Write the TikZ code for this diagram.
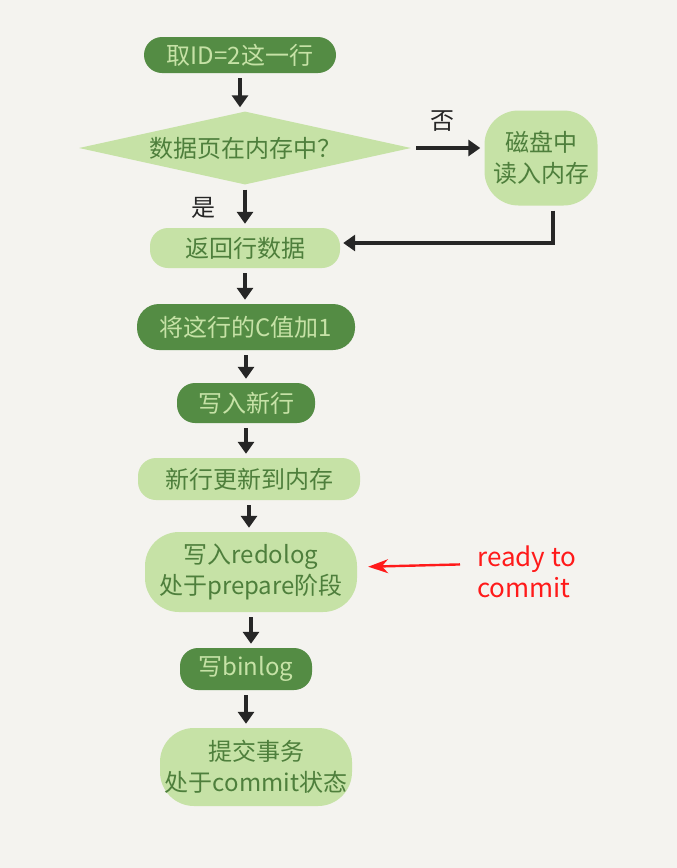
\documentclass[tikz,border=0pt]{standalone}
\usepackage{fontspec}
\newfontfamily\cjk{Noto Sans CJK SC}
\usetikzlibrary{shapes.geometric,arrows.meta}
\definecolor{paper}{HTML}{F4F3EF}
\definecolor{darkleaf}{HTML}{548C44}
\definecolor{lightleaf}{HTML}{C6E2A6}
\definecolor{inkgreen}{HTML}{4E7F3C}
\definecolor{ink}{HTML}{262626}
\definecolor{note}{HTML}{FF1A1A}
\tikzset{
  box/.style={rectangle, rounded corners=18pt, inner sep=0pt, align=center,
    font=\cjk\fontsize{24}{31}\selectfont},
  darkbox/.style={box, fill=darkleaf, text=lightleaf},
  lightbox/.style={box, fill=lightleaf, text=inkgreen},
  flow/.style={draw=ink, line width=4pt, -{Triangle[length=12pt,width=16pt]},
    shorten <=5pt, shorten >=4pt},
}

\begin{document}
\begin{tikzpicture}[x=1pt,y=-1pt]
\fill[paper] (0,0) rectangle (677,868);
\useasboundingbox (0,0) rectangle (677,868);

\node[darkbox, minimum width=192pt, minimum height=36pt] (take) at (240,55) {取ID=2这一行};
\node[diamond, aspect=4.5, inner sep=0pt, minimum width=332pt, minimum height=73pt,
  fill=lightleaf, text=inkgreen, font=\cjk\fontsize{24}{31}\selectfont] (chk) at (245,148) {数据页在内存中？};
\node[lightbox, rounded corners=34pt, minimum width=113pt, minimum height=95pt] (disk) at (541,158) {磁盘中\\读入内存};
\node[lightbox, minimum width=190pt, minimum height=40pt] (ret) at (245,248) {返回行数据};
\node[darkbox, rounded corners=22pt, minimum width=218pt, minimum height=46pt] (inc) at (246,327) {将这行的C值加1};
\node[darkbox, minimum width=138pt, minimum height=40pt] (newrow) at (246,403) {写入新行};
\node[lightbox, minimum width=222pt, minimum height=42pt] (upd) at (249,479) {新行更新到内存};
\node[lightbox, rounded corners=34pt, minimum width=212pt, minimum height=80pt] (redo) at (251,572) {写入redolog\\处于prepare阶段};
\node[darkbox, minimum width=132pt, minimum height=42pt] (binlog) at (246,669) {写binlog};
\node[lightbox, rounded corners=34pt, minimum width=192pt, minimum height=78pt] (commit) at (256,767) {提交事务\\处于commit状态};

\node[text=ink, font=\cjk\fontsize{24}{26}\selectfont] (no) at (442,121) {否};
\node[text=ink, font=\cjk\fontsize{24}{26}\selectfont] (yes) at (203,208) {是};
\node[text=note, anchor=west, align=left, inner sep=0pt,
  font=\cjk\fontsize{26}{31}\selectfont] (ready) at (477,572) {ready to\\commit};

\foreach \a/\b in {take/chk, chk/ret, ret/inc, inc/newrow, newrow/upd, upd/redo, redo/binlog, binlog/commit}
  \draw[flow] (\a.south) -- (\a.south |- \b.north);
\draw[flow] (chk.east) -- (chk.east -| disk.west);
\draw[flow, shorten >=3pt] ([xshift=12pt]disk.south) |- ([yshift=5pt]ret.east);
\draw[note, line width=2.4pt, -{Stealth[length=20pt,width=14pt]}, shorten <=17pt, shorten >=11pt]
  ([yshift=8pt]ready.west) -- ([yshift=5pt]redo.east);
\end{tikzpicture}
\end{document}
